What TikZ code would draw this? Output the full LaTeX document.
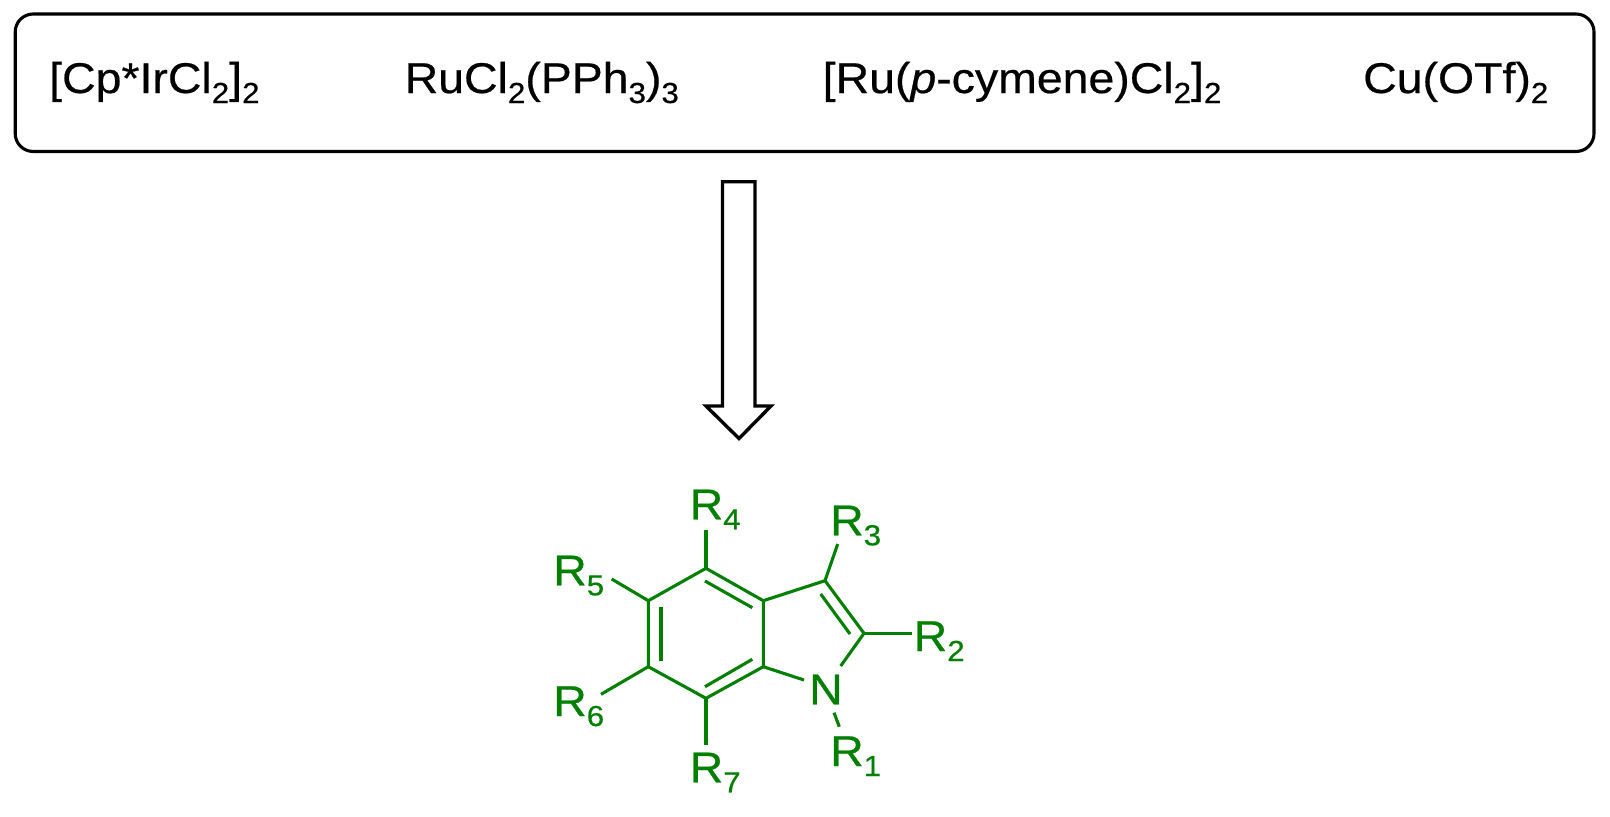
\documentclass[tikz,border=0pt]{standalone}
\usepackage{fontspec}
\setmainfont[FakeStretch=1.08,FakeBold=0.5]{Liberation Sans}
\definecolor{indgreen}{HTML}{007F00}
\newcommand{\sbs}[1]{\raisebox{-10pt}{\fontsize{29}{29}\selectfont #1}}
\tikzset{
  x=1pt,y=-1pt,
  bond/.style={draw=indgreen,line width=3.1pt,line cap=butt,line join=miter},
  cat/.style={inner sep=0pt,anchor=base west,text=black,font=\fontsize{43}{43}\selectfont},
  rlab/.style={inner sep=0pt,anchor=base west,text=indgreen,font=\fontsize{43}{43}\selectfont},
  panel/.style={draw=black,line width=3.1pt,rounded corners=18pt},
  bigarrow/.style={draw=black,fill=white,line width=3.4pt,line join=miter}
}
\begin{document}
\begin{tikzpicture}
\useasboundingbox (0,0) rectangle (1610,817);
\fill[white] (0,0) rectangle (1610,817);
% catalyst panel
\draw[panel] (15.2,14) rectangle (1594,151.5);
\node[cat] (ir) at (49,93) {[Cp*IrCl\sbs{2}]\sbs{2}};
\node[cat] (ru) at (404.5,93) {RuCl\sbs{2}(PPh\sbs{3})\sbs{3}};
\node[cat] (cym) at (822.5,93) {[Ru(\textit{p}-cymene)Cl\sbs{2}]\sbs{2}};
\node[cat] (cu) at (1363,93) {Cu(OTf)\sbs{2}};
% hollow arrow
\draw[bigarrow] (722.5,181.7) -- (755,181.7) -- (755,406) -- (771,406) -- (739,438.5) -- (706,406) -- (722.5,406) -- cycle;
% atoms
\coordinate (c4) at (706,568.3);
\coordinate (c3a) at (763.3,600.7);
\coordinate (c7a) at (763.3,666.7);
\coordinate (c7) at (706,698.3);
\coordinate (c6) at (648.3,666.7);
\coordinate (c5) at (648.3,600.7);
\coordinate (c3) at (825,580.7);
\coordinate (c2) at (864,633.3);
\coordinate (nL) at (804,680);
\coordinate (nR) at (840.7,666);
\coordinate (nB) at (834,712.7);
\coordinate (r1e) at (839.3,726.7);
\coordinate (r2e) at (911.7,633.3);
\coordinate (r3e) at (837.7,544);
\coordinate (r4e) at (706,530);
\coordinate (r5e) at (611.7,579);
\coordinate (r6e) at (601,694.3);
\coordinate (r7e) at (706,745);
\coordinate (d1a) at (705,581);
\coordinate (d1b) at (752.3,607.7);
\coordinate (d2a) at (661,606.7);
\coordinate (d2b) at (661,661);
\coordinate (d3a) at (705,686.7);
\coordinate (d3b) at (752.3,659.3);
\coordinate (d4a) at (820.7,594);
\coordinate (d4b) at (850,634);
% ring bonds
\draw[bond] (c3a) -- (c4) -- (c5) -- (c6) -- (c7) -- (c7a) -- cycle;
\draw[bond] (nL) -- (c7a);
\draw[bond] (c3a) -- (c3) -- (c2) -- (nR);
\draw[bond] (d1a) -- (d1b);
\draw[bond] (d2a) -- (d2b);
\draw[bond] (d3a) -- (d3b);
\draw[bond] (d4a) -- (d4b);
% substituents
\draw[bond] (nB) -- (r1e);
\draw[bond] (c2) -- (r2e);
\draw[bond] (c3) -- (r3e);
\draw[bond] (c4) -- (r4e);
\draw[bond] (c5) -- (r5e);
\draw[bond] (c6) -- (r6e);
\draw[bond] (c7) -- (r7e);
% labels
\node[rlab] (n) at (809,704.3) {N};
\node[rlab] (r1) at (830,766) {R\sbs{1}};
\node[rlab] (r2) at (913.5,651) {R\sbs{2}};
\node[rlab] (r3) at (830,535.3) {R\sbs{3}};
\node[rlab] (r4) at (689.5,519.3) {R\sbs{4}};
\node[rlab] (r5) at (553,585.3) {R\sbs{5}};
\node[rlab] (r6) at (553,716) {R\sbs{6}};
\node[rlab] (r7) at (689.5,782.3) {R\sbs{7}};
\end{tikzpicture}
\end{document}
